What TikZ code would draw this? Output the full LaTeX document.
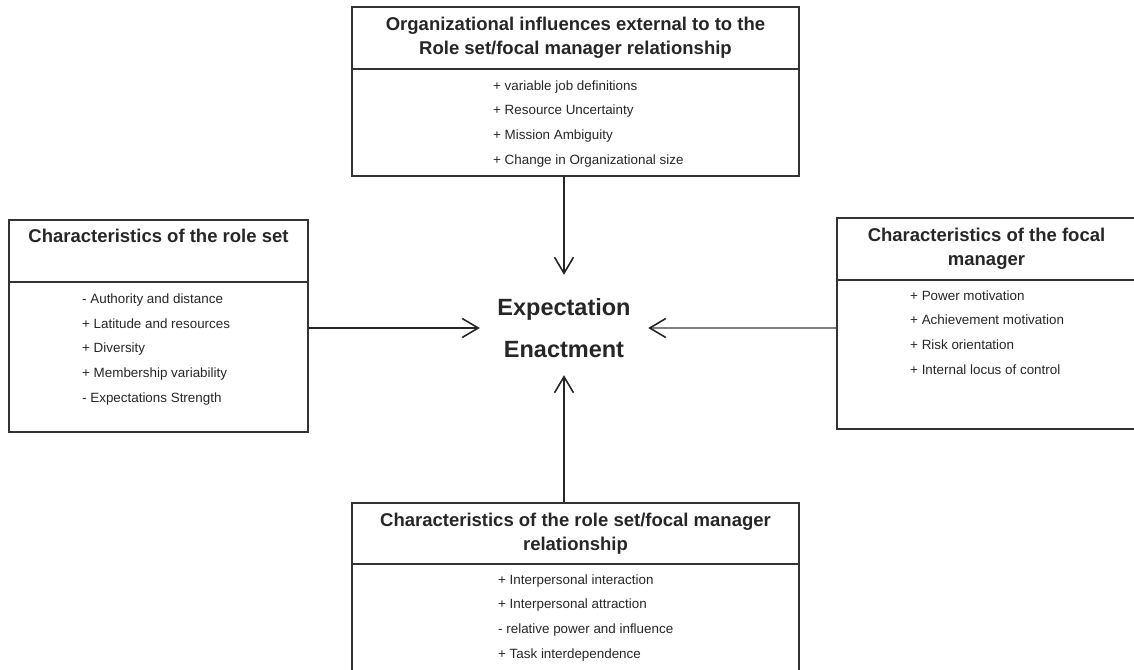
\documentclass[tikz,border=0pt]{standalone}
\usepackage{fontspec}
\setmainfont{Liberation Sans}
\usetikzlibrary{arrows.meta}
\begin{document}
\begin{tikzpicture}[x=1pt,y=-1pt,
  boxline/.style={draw=black!80, line width=1.5pt},
  titlebox/.style={boxline, rectangle, inner sep=0pt, align=center,
    font=\fontsize{18.5}{24}\selectfont\bfseries, text=black!85},
  bodybox/.style={boxline, rectangle, inner sep=0pt},
  items/.style={align=left, inner sep=0pt, anchor=base west,
    font=\fontsize{13.4}{24.8}\selectfont, text=black!85},
  conn/.style={line width=1.6pt, draw=black!85,
    -{Straight Barb[length=16pt,width=19pt,line width=1.6pt,color=black!85]}},
]
\useasboundingbox (0,0) rectangle (1134,669);
\clip (0,0) rectangle (1134,669);

% top box
\node[titlebox, minimum width=447pt, minimum height=62pt] (topT) at (575.5,38)
  {Organizational influences external to to the\\Role set/focal manager relationship};
\node[bodybox, minimum width=447pt, minimum height=107pt] (topB) at (575.5,122.5) {};
\node[items] (topL) at (493,164.5)
  {+ variable job definitions\\+ Resource Uncertainty\\+ Mission Ambiguity\\+ Change in Organizational size};

% left box
\node[titlebox, minimum width=299pt, minimum height=62pt] (leftT) at (158.5,251)
  {Characteristics of the role set\\\strut};
\node[bodybox, minimum width=299pt, minimum height=150pt] (leftB) at (158.5,357) {};
\node[items] (leftL) at (82,402.5)
  {- Authority and distance\\+ Latitude and resources\\+ Diversity\\+ Membership variability\\- Expectations Strength};

% right box
\node[titlebox, minimum width=299pt, minimum height=62pt] (rightT) at (986.5,249)
  {Characteristics of the focal\\manager};
\node[bodybox, minimum width=299pt, minimum height=149pt] (rightB) at (986.5,354.5) {};
\node[items] (rightL) at (910,374.5)
  {+ Power motivation\\+ Achievement motivation\\+ Risk orientation\\+ Internal locus of control};

% bottom box
\node[titlebox, minimum width=447pt, minimum height=61pt] (botT) at (575.5,533.5)
  {Characteristics of the role set/focal manager\\relationship};
\node[bodybox, minimum width=447pt, minimum height=126pt] (botB) at (575.5,627) {};
\node[items] (botL) at (498,658.5)
  {+ Interpersonal interaction\\+ Interpersonal attraction\\- relative power and influence\\+ Task interdependence};

% hub
\node[minimum width=168pt, minimum height=106pt, inner sep=0pt, align=center,
  font=\fontsize{23.5}{42}\selectfont\bfseries, text=black!85] (hub) at (564,328)
  {Expectation\\Enactment};

% connectors
\draw[conn] (hub.north |- topB.south) -- (hub.north);
\draw[conn] (leftB.east |- hub.west) -- (hub.west);
\draw[conn, draw=black!50] (rightB.west |- hub.east) -- (hub.east);
\draw[conn, shorten >=-6pt] (hub.south |- botT.north) -- (hub.south);
\end{tikzpicture}
\end{document}
